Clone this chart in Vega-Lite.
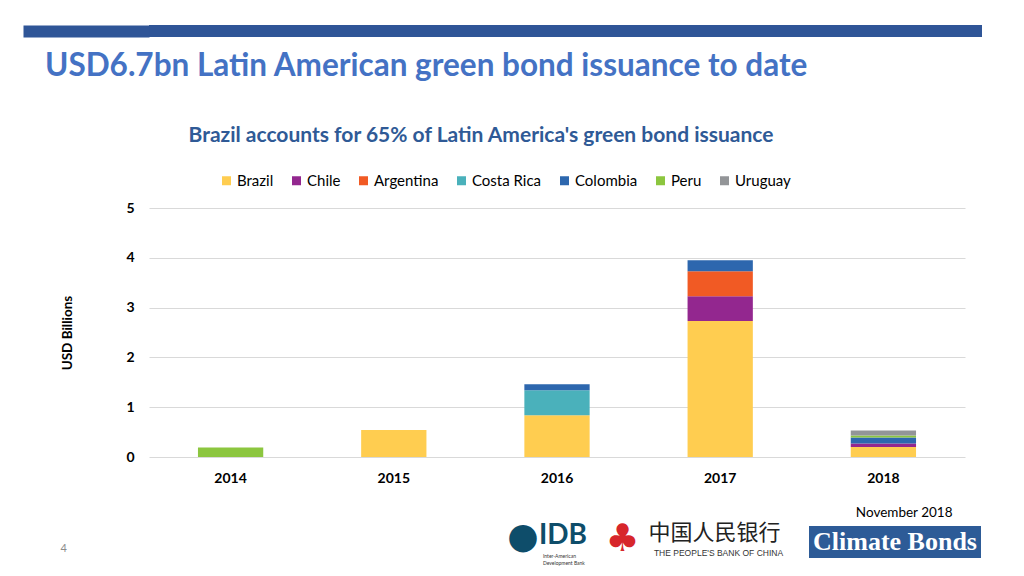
{
  "$schema": "https://vega.github.io/schema/vega-lite/v6.json",
  "background": "white",
  "padding": {"left": 17, "top": 25, "right": 0, "bottom": 0},
  "config": {"view": {"stroke": null}, "font": "Lato"},
  "spacing": 42,
  "vconcat": [
    {
      "width": 833,
      "height": 12,
      "view": {"fill": "#2F5597", "stroke": null},
      "title": {"text": "USD6.7bn Latin American green bond issuance to date", "orient": "bottom", "anchor": "start", "frame": "group", "dx": -104, "offset": 14, "font": "Lato", "fontSize": 31.5, "fontWeight": "bold", "color": "#4472C4"},
      "data": {"values": [{"v": 0.5}]},
      "mark": {"type": "point", "opacity": 0},
      "encoding": {
        "y": {"field": "v", "type": "quantitative", "scale": {"domain": [0, 1]},
          "axis": {"values": [0.5], "tickSize": 126, "tickWidth": 12, "tickColor": "#2F5597", "labels": false, "domain": false, "grid": false, "title": null}}
      }
    },
    {
      "spacing": 0,
      "vconcat": [
        {
          "width": 816,
          "height": 249,
          "title": {"text": "Brazil accounts for 65% of Latin America's green bond issuance", "anchor": "middle", "dx": -76, "offset": 55, "font": "Lato", "fontSize": 21, "fontWeight": "bold", "color": "#2F5A96"},
          "data": {"values": [
            {"year": "2014", "country": "Peru", "value": 0.19},
            {"year": "2015", "country": "Brazil", "value": 0.54},
            {"year": "2016", "country": "Brazil", "value": 0.84},
            {"year": "2016", "country": "Costa Rica", "value": 0.5},
            {"year": "2016", "country": "Colombia", "value": 0.12},
            {"year": "2017", "country": "Brazil", "value": 2.73},
            {"year": "2017", "country": "Chile", "value": 0.5},
            {"year": "2017", "country": "Argentina", "value": 0.5},
            {"year": "2017", "country": "Colombia", "value": 0.22},
            {"year": "2018", "country": "Brazil", "value": 0.2},
            {"year": "2018", "country": "Chile", "value": 0.07},
            {"year": "2018", "country": "Colombia", "value": 0.12},
            {"year": "2018", "country": "Peru", "value": 0.04},
            {"year": "2018", "country": "Uruguay", "value": 0.1}
          ]},
          "transform": [
            {"calculate": "indexof(['Brazil','Chile','Argentina','Costa Rica','Colombia','Peru','Uruguay'], datum.country)", "as": "rank"}
          ],
          "mark": {"type": "bar"},
          "encoding": {
            "x": {"field": "year", "type": "nominal", "scale": {"paddingInner": 0.6, "paddingOuter": 0.3},
              "axis": {"labelAngle": 0, "labelFont": "Lato", "labelFontSize": 14, "labelFontWeight": "bold", "labelColor": "#000000", "labelPadding": 14, "ticks": false, "domain": false,
                "title": "November 2018", "titleX": 803, "titleAlign": "right", "titlePadding": 20, "titleFont": "Lato", "titleFontSize": 13.5, "titleFontWeight": "normal", "titleColor": "#000000"}},
            "y": {"field": "value", "type": "quantitative", "stack": "zero", "scale": {"domain": [0, 5]},
              "axis": {"values": [0, 1, 2, 3, 4, 5], "labelFont": "Lato", "labelFontSize": 14, "labelFontWeight": "bold", "labelColor": "#000000", "labelPadding": 15, "ticks": false, "domain": false, "gridColor": "#D9D9D9",
                "title": "USD Billions", "titleFont": "Lato", "titleFontSize": 13.5, "titleFontWeight": "bold", "titleColor": "#000000", "titlePadding": 51}},
            "order": {"field": "rank", "type": "quantitative"},
            "color": {"field": "country", "type": "nominal",
              "sort": ["Brazil", "Chile", "Argentina", "Costa Rica", "Colombia", "Peru", "Uruguay"],
              "scale": {"domain": ["Brazil", "Chile", "Argentina", "Costa Rica", "Colombia", "Peru", "Uruguay"],
                "range": ["#FFCD50", "#93278F", "#F15A24", "#4AB1BB", "#2D67AE", "#8CC63F", "#939598"]},
              "legend": {"orient": "none", "legendX": 70, "legendY": 148, "direction": "horizontal", "title": null, "symbolType": "square", "symbolSize": 81, "symbolStrokeWidth": 0, "labelFont": "Lato", "labelFontSize": 15, "labelColor": "#000000", "labelOffset": 3, "columnPadding": 15}}
          }
        },
        {
          "spacing": 0,
          "hconcat": [
            {
              "width": 357,
              "height": 32,
              "title": {"text": "4", "orient": "left", "angle": 0, "anchor": "middle", "align": "center", "offset": 79, "dy": 1, "fontSize": 11, "fontWeight": "normal", "color": "#8C8C8C", "font": "Lato"},
              "data": {"values": [{"t": ""}]},
              "mark": {"type": "text"},
              "encoding": {"text": {"field": "t"}}
            },
            {
              "width": 90,
              "height": 32,
              "data": {"values": [{"logo": "IDB", "mark": "●", "sub": ["Inter-American", "Development Bank"]}]},
              "layer": [
                {"mark": {"type": "text", "font": "DejaVu Sans", "fontSize": 36, "color": "#0E4D6A", "dx": -28, "dy": -5}, "encoding": {"text": {"field": "mark"}}},
                {"mark": {"type": "text", "font": "Lato", "fontWeight": "bold", "fontSize": 28, "color": "#0E4D6A", "dx": 12, "dy": -6}, "encoding": {"text": {"field": "logo"}}},
                {"mark": {"type": "text", "font": "Lato", "fontSize": 5, "color": "#333333", "align": "left", "dx": -8, "dy": 14}, "encoding": {"text": {"field": "sub"}}}
              ]
            },
            {
              "width": 213,
              "height": 32,
              "data": {"values": [{"emblem": "♣", "cn": "中国人民银行", "en": "THE PEOPLE'S BANK OF CHINA"}]},
              "layer": [
                {"mark": {"type": "text", "font": "DejaVu Sans", "fontSize": 38, "color": "#D7262B", "dx": -80, "dy": -2}, "encoding": {"text": {"field": "emblem"}}},
                {"mark": {"type": "text", "font": "Noto Sans CJK SC", "fontSize": 22, "color": "#222222", "dx": 12, "dy": -9}, "encoding": {"text": {"field": "cn"}}},
                {"mark": {"type": "text", "font": "Liberation Sans", "fontSize": 8.5, "color": "#333333", "dx": 16, "dy": 11}, "encoding": {"text": {"field": "en"}}}
              ]
            },
            {
              "width": 172,
              "height": 32,
              "view": {"fill": "#2D5B97", "stroke": null},
              "data": {"values": [{"t": "Climate Bonds"}]},
              "mark": {"type": "text", "font": "Liberation Serif", "fontWeight": "bold", "fontSize": 26, "color": "white"},
              "encoding": {"text": {"field": "t"}}
            }
          ]
        }
      ]
    }
  ]
}
